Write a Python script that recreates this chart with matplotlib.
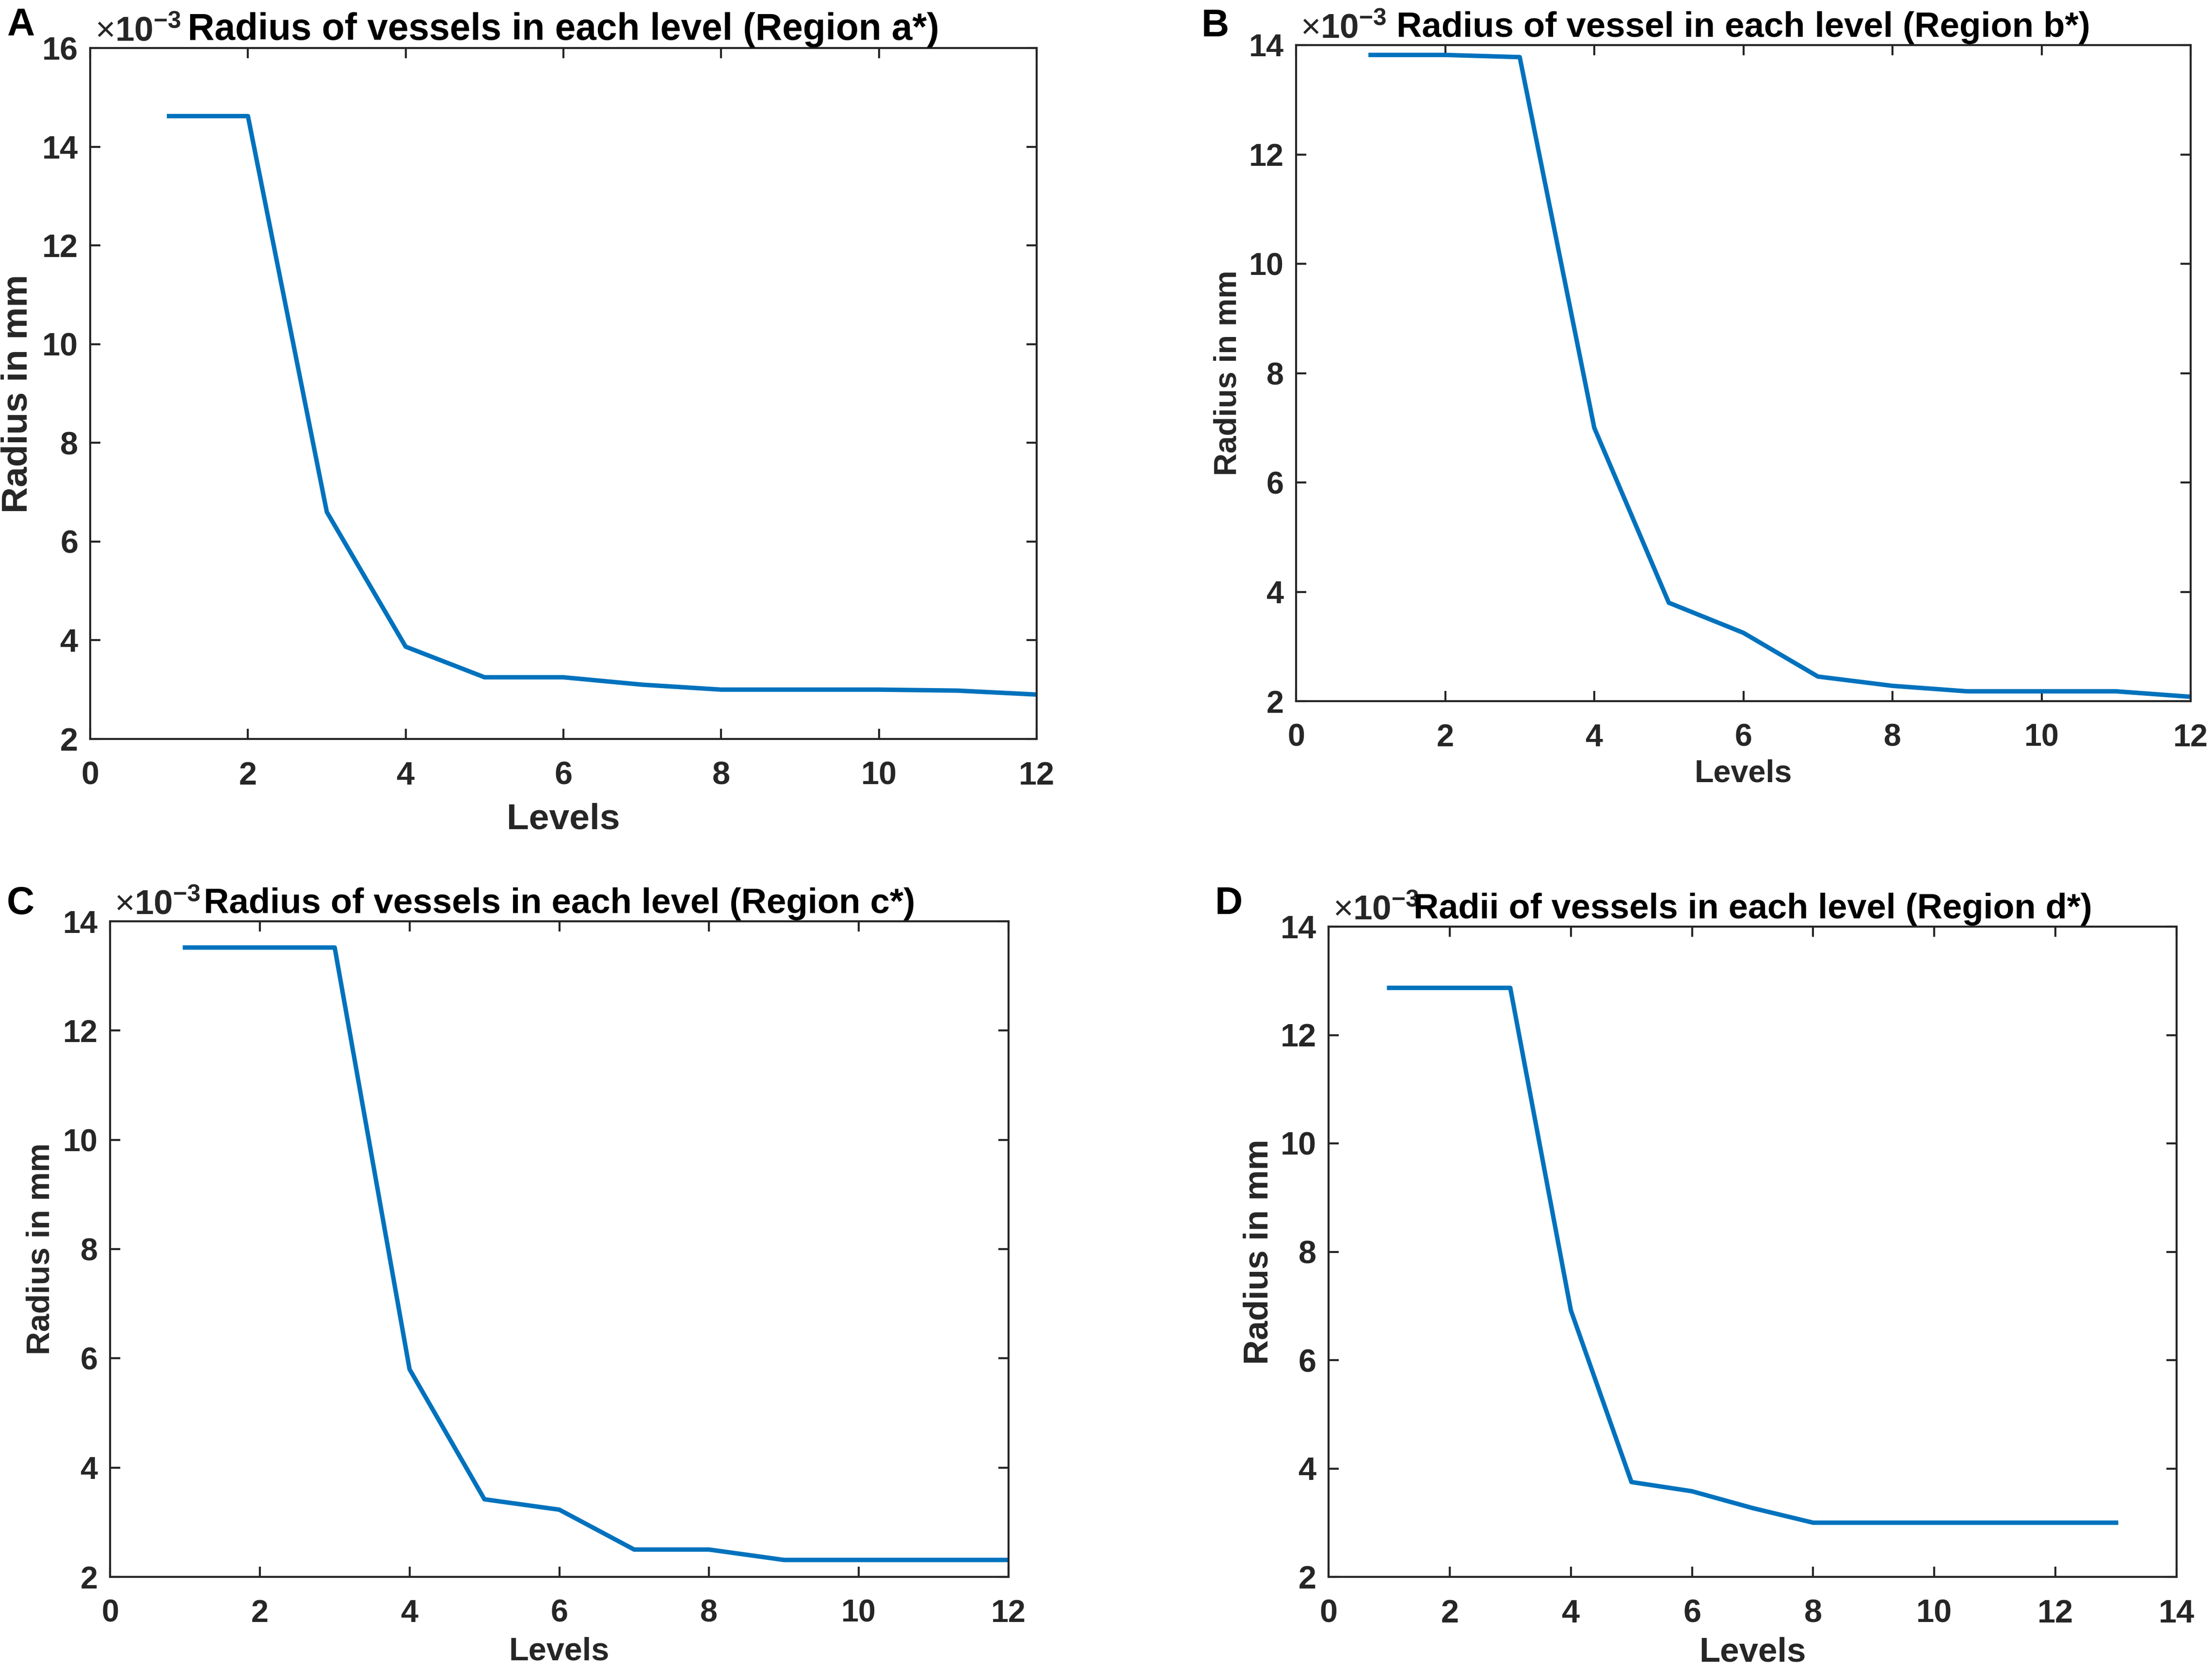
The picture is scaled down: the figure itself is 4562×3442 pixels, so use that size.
import matplotlib
matplotlib.use('Agg')
import matplotlib.pyplot as plt

plt.rcParams['font.family'] = ['Liberation Sans', 'DejaVu Sans']
plt.rcParams['axes.unicode_minus'] = False
plt.rcParams['mathtext.fontset'] = 'custom'
plt.rcParams['mathtext.rm'] = 'Liberation Sans'
plt.rcParams['mathtext.bf'] = 'Liberation Sans:bold'
plt.rcParams['mathtext.default'] = 'regular'

# radius values are in units of 1e-3 mm (axis shows x10^-3)
levels_a = [1, 2, 3, 4, 5, 6, 7, 8, 9, 10, 11, 12]
radius_a = [14.62, 14.62, 6.6, 3.87, 3.25, 3.25, 3.1, 3.0, 3.0, 3.0, 2.98, 2.9]

levels_b = [1, 2, 3, 4, 5, 6, 7, 8, 9, 10, 11, 12]
radius_b = [13.82, 13.82, 13.78, 7.0, 3.8, 3.25, 2.45, 2.28, 2.18, 2.18, 2.18, 2.08]

levels_c = [1, 2, 3, 4, 5, 6, 7, 8, 9, 10, 11, 12]
radius_c = [13.52, 13.52, 13.52, 5.8, 3.42, 3.23, 2.5, 2.5, 2.31, 2.31, 2.31, 2.31]

levels_d = [1, 2, 3, 4, 5, 6, 7, 8, 9, 10, 11, 12, 13]
radius_d = [12.87, 12.87, 12.87, 6.92, 3.75, 3.58, 3.27, 3.0, 3.0, 3.0, 3.0, 3.0, 3.0]

titles = ['Radius of vessels in each level (Region a*)',
          'Radius of vessel in each level (Region b*)',
          'Radius of vessels in each level (Region c*)',
          'Radii of vessels in each level (Region d*)']
letters = ['A', 'B', 'C', 'D']

W, H = 4562, 3442
fig = plt.figure(figsize=(W / 300, H / 300), dpi=300)

# layout in pixels: left, right, top, bottom of each axes box
boxes = [(186, 2138, 99, 1524), (2673, 4518, 93, 1446),
         (227, 2080, 1900, 3252), (2740, 4489, 1911, 3252)]
letter_pos = [(14, 15), (2478, 17), (14, 1827), (2506, 1827)]
xmaxes = [12, 12, 12, 14]
ymaxes = [16, 14, 14, 14]
title_fs = [18.4, 17.4, 17.4, 17.3]
label_fs = [18, 15.5, 16, 17]
tick_fs = [16, 15.5, 15.5, 16]
# label anchors in axes fraction
ylab_x = [-0.059, -0.060, -0.060, -0.063]
xlab_y = [-0.092, -0.088, -0.091, -0.092]

data = [(levels_a, radius_a), (levels_b, radius_b),
        (levels_c, radius_c), (levels_d, radius_d)]

dark = '#262626'

for i in range(4):
    l, r, t, b = boxes[i]
    ax = fig.add_axes([l / W, 1 - b / H, (r - l) / W, (b - t) / H])
    x, y = data[i]
    ax.plot(x, y, color='#0072BD', lw=2.2)
    ax.set_xlim(0, xmaxes[i])
    ax.set_ylim(2, ymaxes[i])
    ax.set_xticks(range(0, xmaxes[i] + 1, 2))
    ax.set_yticks(range(2, ymaxes[i] + 1, 2))
    ax.tick_params(direction='in', top=True, right=True, length=5, width=1.0,
                   labelsize=tick_fs[i], colors=dark)
    ax.tick_params(axis='x', pad=11)
    ax.tick_params(axis='y', pad=6)
    for lab in ax.get_xticklabels() + ax.get_yticklabels():
        lab.set_fontweight('bold')
    for sp in ax.spines.values():
        sp.set_color(dark)
        sp.set_linewidth(1.0)
    ax.set_title(titles[i], fontsize=title_fs[i], fontweight='bold', pad=4)
    ax.text(0.005, 1.0, r'$\times\mathbf{10^{-3}}$', transform=ax.transAxes,
            ha='left', va='bottom', fontsize=17, color=dark)
    ax.set_xlabel('Levels', fontsize=label_fs[i], fontweight='bold', color=dark)
    ax.set_ylabel('Radius in mm', fontsize=label_fs[i], fontweight='bold', color=dark)
    ax.xaxis.set_label_coords(0.5, xlab_y[i])
    ax.yaxis.set_label_coords(ylab_x[i], 0.5)
    lx, ly = letter_pos[i]
    fig.text(lx / W, 1 - ly / H, letters[i], fontsize=19, fontweight='bold',
             ha='left', va='top')

fig.savefig('out.png', dpi=300)
